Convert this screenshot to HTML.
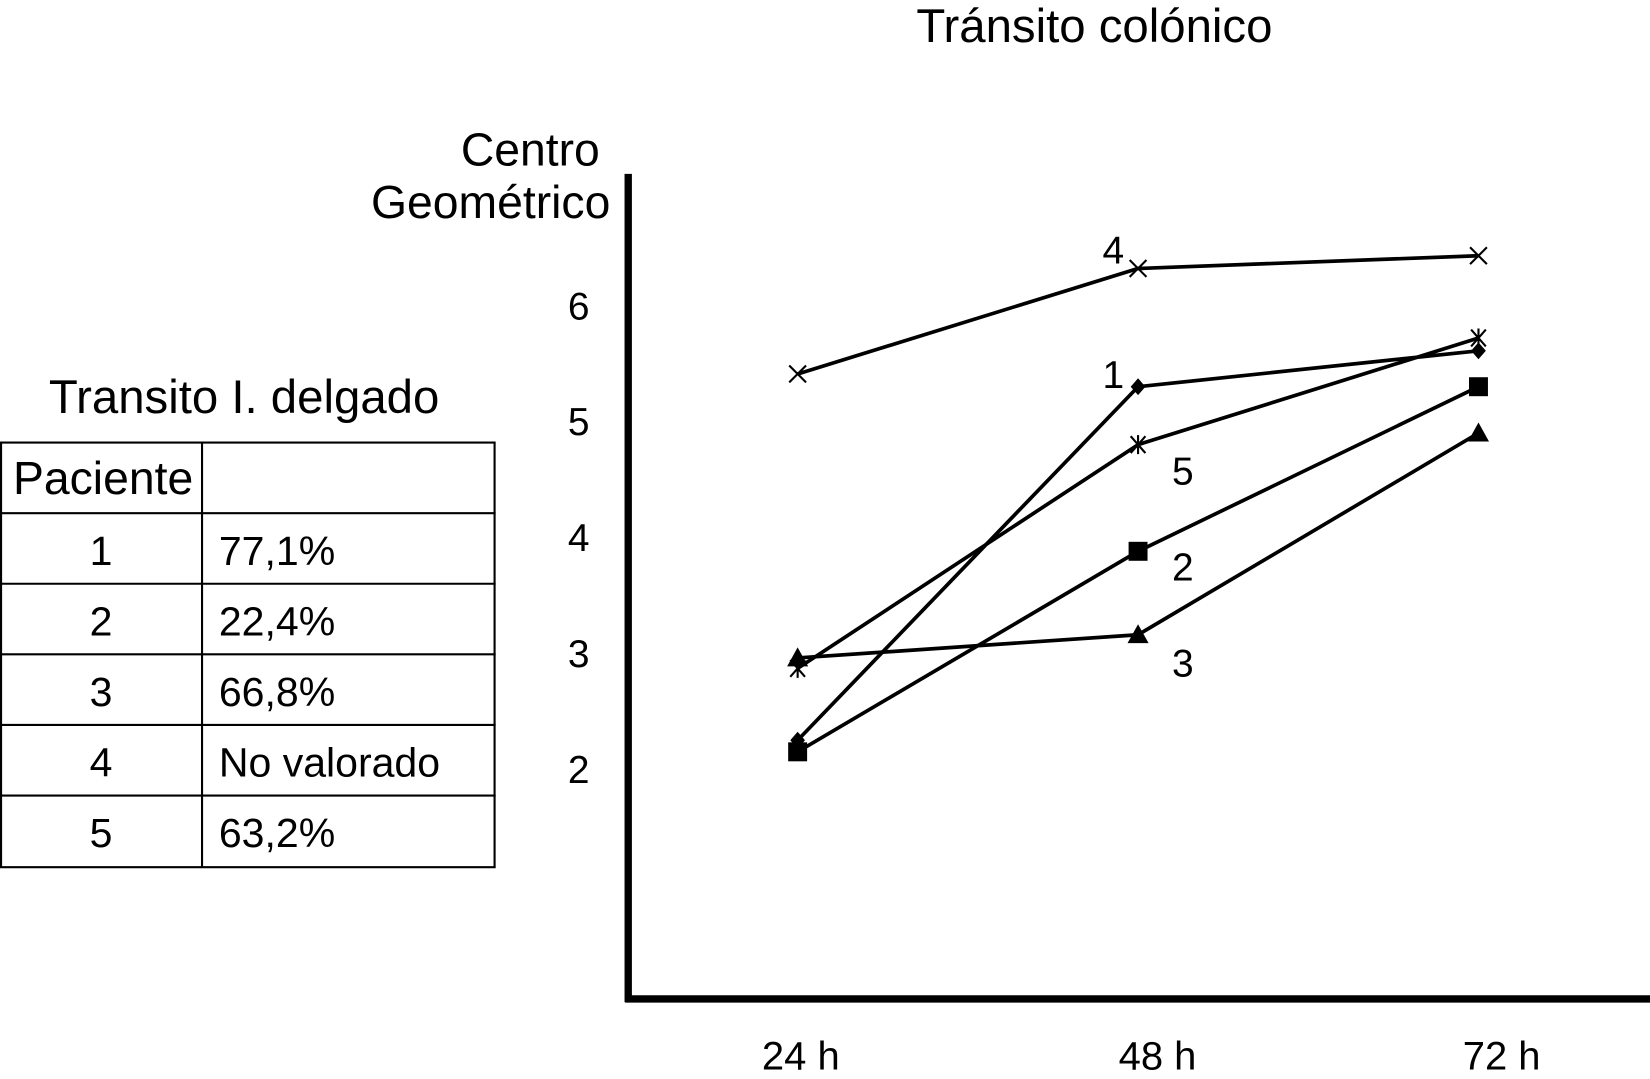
<!DOCTYPE html>
<html><head><meta charset="utf-8"><style>
html,body{margin:0;padding:0;background:#fff;}
svg{display:block;}
text{font-family:"Liberation Sans",sans-serif;fill:#000;}
</style></head><body>
<svg width="1650" height="1079" viewBox="0 0 1568 1024" preserveAspectRatio="none">
<text x="1040" y="40" font-size="45" text-anchor="middle">Tránsito colónico</text>
<text x="570" y="157" font-size="44" text-anchor="end">Centro</text>
<text x="580" y="207" font-size="44" text-anchor="end">Geométrico</text>
<g id="table">
<text x="232" y="392" font-size="45" text-anchor="middle">Transito I. delgado</text>
</g>
<g id="plot"></g>
</svg>
<script>
const categories = ["24 h","48 h","72 h"];
const yTicks = [2,3,4,5,6];
const patients = ["1","2","3","4","5"];
const intestinal = ["77,1%","22,4%","66,8%","No valorado","63,2%"];
const s1 = [2.25,5.30,5.61];
const s2 = [2.15,3.88,5.30];
const s3 = [2.96,3.16,4.90];
const s4 = [5.41,6.32,6.43];
const s5 = [2.87,4.80,5.72];

const NS="http://www.w3.org/2000/svg";
function mk(tag,attrs,parent){const e=document.createElementNS(NS,tag);for(const k in attrs)e.setAttribute(k,attrs[k]);parent.appendChild(e);return e;}
const xPos=i=>758+i*323.5;
const yPos=v=>290+(6-v)*110;
const plot=document.getElementById('plot');

let ax=mk('line',{x1:597,y1:165,x2:597,y2:951,stroke:'#000','stroke-width':7},plot);


let bx=mk('line',{x1:594,y1:948,x2:1568,y2:948,stroke:'#000','stroke-width':7},plot);



yTicks.forEach(v=>{const t=mk('text',{x:550,y:yPos(v)+13,'font-size':37,'text-anchor':'middle'},plot);t.textContent=v;

});
const xl=[761,1100,1427];
categories.forEach((c,i)=>{const t=mk('text',{x:xl[i],y:1015,'font-size':38,'text-anchor':'middle'},plot);t.textContent=c;

});

function marker(type,x,y,g){
  if(type==='x'){mk('path',{d:`M${x-8},${y-8}L${x+8},${y+8}M${x-8},${y+8}L${x+8},${y-8}`,stroke:'#000','stroke-width':2,fill:'none'},g);}
  else if(type==='ast'){mk('path',{d:`M${x-7},${y-8}L${x+7},${y+8}M${x-7},${y+8}L${x+7},${y-8}M${x},${y-9}L${x},${y+9}`,stroke:'#000','stroke-width':2,fill:'none'},g);}
  else if(type==='dia'){mk('polygon',{points:`${x},${y-8} ${x+7},${y} ${x},${y+8} ${x-7},${y}`,fill:'#000'},g);}
  else if(type==='sq'){mk('rect',{x:x-9,y:y-9,width:18,height:18,fill:'#000'},g);}
  else if(type==='tri'){mk('polygon',{points:`${x},${y-10} ${x+10},${y+8} ${x-10},${y+8}`,fill:'#000'},g);}
}
const series=[[s4,'x','4',1058,250,'series-patient-4'],[s1,'dia','1',1058,368,'series-patient-1'],[s5,'ast','5',1124,460,'series-patient-5'],[s2,'sq','2',1124,551,'series-patient-2'],[s3,'tri','3',1124,642,'series-patient-3']];
series.forEach(([d,m,lab,lx,ly,name])=>{
  const g=mk('g',{},plot);
  
  
  mk('polyline',{points:d.map((v,i)=>xPos(i)+','+yPos(v)).join(' '),fill:'none',stroke:'#000','stroke-width':3.5},g);
  d.forEach((v,i)=>marker(m,xPos(i),yPos(v),g));
  const t=mk('text',{x:lx,y:ly,'font-size':37,'text-anchor':'middle'},g);t.textContent=lab;
  
  
});

const tbl=document.getElementById('table');
const rows=[420,487,554,621,688,755,823];
rows.forEach(y=>mk('line',{x1:0,y1:y,x2:471,y2:y,stroke:'#000','stroke-width':2},tbl));
[1,192,470].forEach(x=>mk('line',{x1:x,y1:420,x2:x,y2:823,stroke:'#000','stroke-width':2},tbl));
let h=mk('text',{x:98,y:469,'font-size':44,'text-anchor':'middle'},tbl);h.textContent='Paciente';


patients.forEach((p,i)=>{
  const y=rows[i+1]+49;
  const a=mk('text',{x:96,y:y,'font-size':39,'text-anchor':'middle'},tbl);a.textContent=p;
  
  
  const b=mk('text',{x:208,y:y,'font-size':39},tbl);b.textContent=intestinal[i];
  
  
});
</script>
</body></html>
